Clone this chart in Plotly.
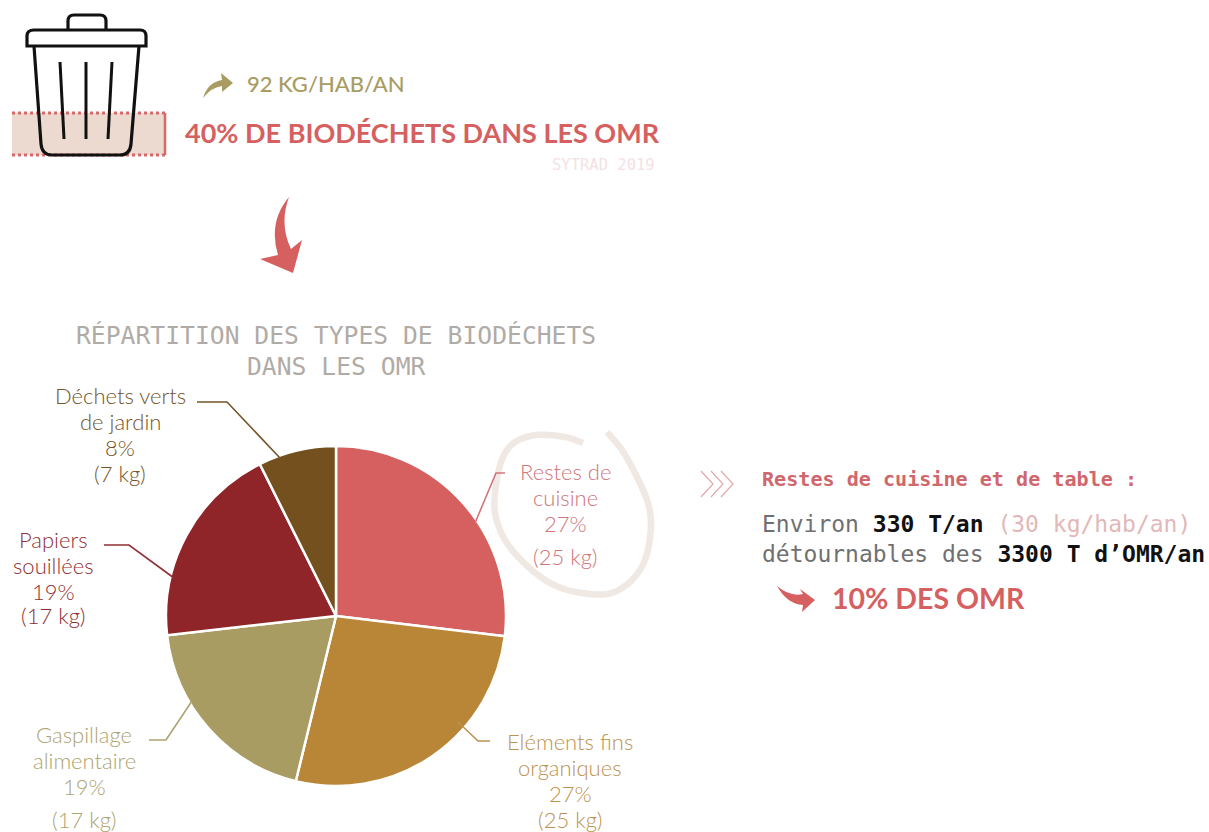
import re
import plotly.graph_objects as go

W, H = 1209, 832

# ---- data ----
categories = ["Restes de cuisine", "Eléments fins organiques", "Gaspillage alimentaire",
              "Papiers souillées", "Déchets verts de jardin"]
slice_sizes = [26.9, 26.9, 19.4, 19.4, 7.4]
shares = [27, 27, 19, 19, 8]
kilos = [25, 25, 17, 17, 7]
slice_colors = ["#d65f5f", "#b98536", "#a89c63", "#8f2528", "#74501e"]
label_colors = ["#d0767b", "#bd9350", "#ada36f", "#8f2f33", "#74552a"]

RED = "#d65f5f"
OLIVE = "#a89c63"
HAND = "Lato, sans-serif"
MONO = "DejaVu Sans Mono, monospace"
ROUND = "Lato, sans-serif"


def px(x):
    return x / W


def py(y):
    return 1 - y / H


def P(d):
    """Convert an SVG path written in page pixels to paper coordinates."""
    toks = re.findall(r"[A-Za-z]|-?\d+\.?\d*", d)
    out, even = [], True
    for t in toks:
        if t.isalpha():
            out.append(t)
        else:
            v = float(t)
            out.append(f"{px(v):.5f}" if even else f"{py(v):.5f}")
            even = not even
    return " ".join(out)


def spline(pts):
    """Catmull-Rom curve through decorative points, as a page-pixel path."""
    d = f"M {pts[0][0]} {pts[0][1]}"
    for i in range(len(pts) - 1):
        p0 = pts[max(i - 1, 0)]
        p1, p2 = pts[i], pts[i + 1]
        p3 = pts[min(i + 2, len(pts) - 1)]
        c1 = (p1[0] + (p2[0] - p0[0]) / 6, p1[1] + (p2[1] - p0[1]) / 6)
        c2 = (p2[0] - (p3[0] - p1[0]) / 6, p2[1] - (p3[1] - p1[1]) / 6)
        d += f" C {c1[0]:.1f} {c1[1]:.1f} {c2[0]:.1f} {c2[1]:.1f} {p2[0]} {p2[1]}"
    return d


shapes = []


def line_path(d, color, width=2, dash=None, layer="above"):
    shapes.append(dict(type="path", xref="paper", yref="paper", path=P(d), layer=layer,
                       line=dict(color=color, width=width, dash=dash or "solid")))


def fill_path(d, color, layer="above"):
    shapes.append(dict(type="path", xref="paper", yref="paper", path=P(d), layer=layer,
                       fillcolor=color, line=dict(width=0)))


# highlighted band behind the bin
fill_path("M 12 113 L 165 113 L 165 155 L 12 155 Z", "#ecd9cf", layer="below")
line_path("M 12 113 L 165 113", "#d8686a", 3, "dot")
line_path("M 12 155 L 165 155", "#d8686a", 3, "dot")
line_path("M 165 113 L 165 155", "#d8686a", 2.5)

# bin
BIN = "#111111"
line_path("M 34 30 L 140 30 Q 146 30 146 36 L 146 46 L 27 46 L 27 36 Q 27 30 34 30 Z", BIN, 3.2)
line_path("M 68 30 L 68 21 Q 68 15 74 15 L 100 15 Q 106 15 106 21 L 106 30", BIN, 3.2)
line_path("M 34 46 L 41 144 Q 42 155 52 155 L 120 155 Q 130 155 131 144 L 139 46", BIN, 3.2)
line_path("M 60 62 L 64 139", BIN, 3)
line_path("M 86 62 L 86 139", BIN, 3)
line_path("M 112 62 L 108 139", BIN, 3)

# arrows
fill_path("M 203 98 Q 208 82 222 80 L 221 73 L 233 83 L 222 92 L 222 86 Q 212 87 203 98 Z", OLIVE)
fill_path("M 289 197 Q 268 222 278 255 L 260 259 L 293 273 L 302 240 L 291 249 Q 279 224 289 197 Z", RED)
fill_path("M 777 586 Q 790 597 803 594 L 800 589 L 815 600 L 802 612 L 803 605 Q 787 604 777 586 Z", RED)

# chevrons
for x0 in (701, 711, 721):
    line_path(f"M {x0} 471 L {x0 + 12} 484 L {x0} 497", "#e2a9a9", 1.2)

# scribbled ring around the first label
line_path(spline([(583, 443), (565, 437), (537, 435), (515, 442), (503, 457), (496, 485), (495, 513),
                  (505, 540), (523, 562), (545, 580), (567, 590), (590, 594), (612, 593),
                  (632, 580), (645, 560), (651, 527), (648, 503), (637, 477), (622, 450), (607, 432)]),
          "#efe8e3", 6.5, layer="below")

# leader lines, one per slice
leaders = [
    "M 475 523 L 496 473 L 505 473",
    "M 458 722 L 478 741 L 490 741",
    "M 192 701 L 166 740 L 149 740",
    "M 174 578 L 129 545 L 104 545",
    "M 280 458 L 227 402 L 197 402",
]
for d, c in zip(leaders, label_colors):
    line_path(d, c, 1.6)

# ---- annotations ----
annotations = []


def text(x, y, s, size, color, family, anchor="center", weight=None):
    font = dict(size=size, color=color, family=family)
    if weight:
        font["weight"] = weight
    annotations.append(dict(xref="paper", yref="paper", x=px(x), y=py(y), text=s, showarrow=False,
                            xanchor=anchor, yanchor="middle", align=anchor, font=font))


# slice labels: lines of each label
label_lines = [
    ([f"Restes de", "cuisine", f"{shares[0]}%", f"({kilos[0]} kg)"], 565, [471, 497, 523, 556]),
    (["Eléments fins", "organiques", f"{shares[1]}%", f"({kilos[1]} kg)"], 570, [741, 767, 793, 819]),
    (["Gaspillage", "alimentaire", f"{shares[2]}%", f"({kilos[2]} kg)"], 84, [734, 760, 786, 819]),
    (["Papiers", "souillées", f"{shares[3]}%", f"({kilos[3]} kg)"], 53, [539, 565, 591, 615]),
    (["Déchets verts", "de jardin", f"{shares[4]}%", f"({kilos[4]} kg)"], 120, [395, 421, 447, 473]),
]
for (lines, cx, ys), col in zip(label_lines, label_colors):
    for s, y in zip(lines, ys):
        text(cx, y, s, 22, col, ROUND, weight=300)

text(245, 84, "92 KG/HAB/AN", 22, OLIVE, HAND, "left", weight=500)
text(183, 132, "40% DE BIODÉCHETS DANS LES OMR", 27, RED, HAND, "left", weight=700)
text(657, 165, "SYTRAD 2019", 15.5, "#f3e2e3", MONO, "right")
text(336, 335, "RÉPARTITION DES TYPES DE BIODÉCHETS", 24.7, "#b0aba6", MONO)
text(336, 367, "DANS LES OMR", 24.7, "#b0aba6", MONO)
text(760, 479, "<b>Restes de cuisine et de table :</b>", 20.1, "#d0676c", MONO, "left")
text(760, 524, '<span style="color:#707070">Environ </span><b>330 T/an</b>'
               ' <span style="color:#e2b8b8">(30 kg/hab/an)</span>', 23, "#111111", MONO, "left")
text(760, 554, '<span style="color:#707070">détournables des </span><b>3300 T d’OMR/an</b>',
     23, "#111111", MONO, "left")
text(830, 598, "10% DES OMR", 28.5, RED, HAND, "left", weight=700)

fig = go.Figure(go.Pie(
    labels=categories, values=slice_sizes, sort=False, direction="clockwise", rotation=0,
    marker=dict(colors=slice_colors, line=dict(color="white", width=2.5)),
    textinfo="none", hole=0,
    domain=dict(x=[px(166), px(506)], y=[py(786), py(446)]),
))
fig.update_layout(width=W, height=H, margin=dict(l=0, r=0, t=0, b=0), showlegend=False,
                  paper_bgcolor="white", plot_bgcolor="white",
                  shapes=shapes, annotations=annotations)
fig.write_html("out.html", config=dict(displayModeBar=False),
               post_script="document.documentElement.style.overflow='hidden';"
                           "document.body.style.margin='0';")
